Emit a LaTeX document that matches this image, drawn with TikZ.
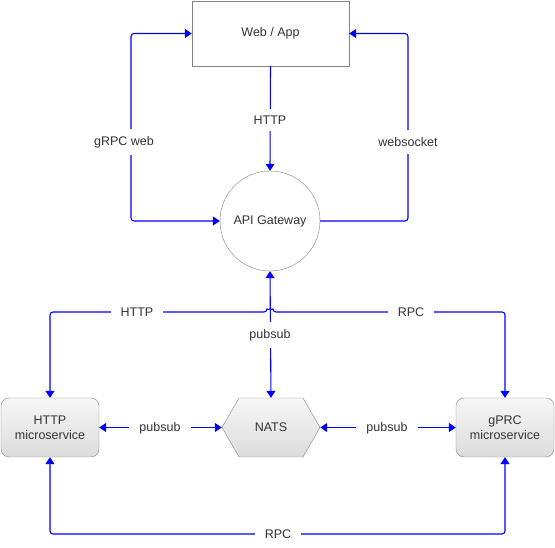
\documentclass[tikz,border=0pt]{standalone}
\usepackage{fontspec}
\setmainfont{Liberation Sans}
\usetikzlibrary{arrows.meta, positioning, shapes.geometric, shapes.symbols}
\definecolor{CLink}{HTML}{0000FF}
\definecolor{CEdge}{HTML}{858585}
\definecolor{CText}{HTML}{333333}
\definecolor{CTop}{HTML}{F7F7F7}
\definecolor{CBot}{HTML}{DCDCDC}

\begin{document}
\begin{tikzpicture}[x=1pt, y=1pt,
    every node/.style={font=\fontsize{12.5}{15}\selectfont, text=CText},
    box/.style={draw=CEdge, fill=white, minimum width=157pt, minimum height=65pt, inner sep=0pt},
    gateway/.style={circle, draw=CEdge, fill=white, minimum size=100pt, inner sep=0pt},
    service/.style={rectangle, rounded corners=8pt, draw=CEdge, top color=CTop, bottom color=CBot,
        minimum width=98pt, minimum height=59pt, inner sep=0pt, align=center},
    broker/.style={signal, signal to=east and west, signal pointer angle=120, draw=CEdge,
        top color=CTop, bottom color=CBot, minimum width=98pt, minimum height=59pt, inner sep=0pt},
    link/.style={CLink, line width=1.1pt, rounded corners=3pt},
    both/.style={{Triangle[width=9pt,length=7pt]}-{Triangle[width=9pt,length=7pt]}},
    one/.style={-{Triangle[width=9pt,length=7pt]}},
    tag/.style={fill=white, inner xsep=10pt, inner ysep=7pt}]
    \useasboundingbox (0,0) rectangle (555,548);

    % Nodes
    \node[box] (web) at (270.5,514.5) {Web / App};
    \node[gateway] (gw) at (270,327) {API Gateway};
    \node[service] (httpms) at (50,120.5) {HTTP\\microservice};
    \node[broker] (nats) at (271,120.5) {NATS};
    \node[service] (grpcms) at (505,120.5) {gPRC\\microservice};

    % Bends
    \coordinate (gwebL) at (131,420);
    \coordinate (wsockR) at (408,420);
    \coordinate (jumpL) at (267,236);
    \coordinate (rpcB) at (278,14);

    % Gateway to client
    \draw[link, both] (gw.west) -| (gwebL) |- (web.west);
    \draw[link, one] (gw.east) -| (wsockR) |- (web.east);
    \draw[link, one] (web.south) -- (gw.north);

    % Gateway to services
    \draw[link, both] (gw.south) -- (nats.north);
    \draw[link, both] (httpms.north) |- (jumpL) arc[start angle=180, end angle=0, radius=3] -| (grpcms.north);
    \draw[link, both] (httpms.east) -- (nats.west);
    \draw[link, both] (nats.east) -- (grpcms.west);
    \draw[link, both] (httpms.south) |- (rpcB) -| (grpcms.south);

    % Labels
    \node[tag] (lgweb) at (124,406) {gRPC web};
    \node[tag] (lwsock) at (408,406) {websocket};
    \node[tag] (lhttp) at (270,428) {HTTP};
    \node[tag] (lpub) at (270,213) {pubsub};
    \node[tag] (lhttpms) at (137,236) {HTTP};
    \node[tag] (lrpc) at (411,236) {RPC};
    \node[tag] (lpubL) at (160,120) {pubsub};
    \node[tag] (lpubR) at (387,120) {pubsub};
    \node[tag] (lrpcB) at (278,14) {RPC};
\end{tikzpicture}
\end{document}
